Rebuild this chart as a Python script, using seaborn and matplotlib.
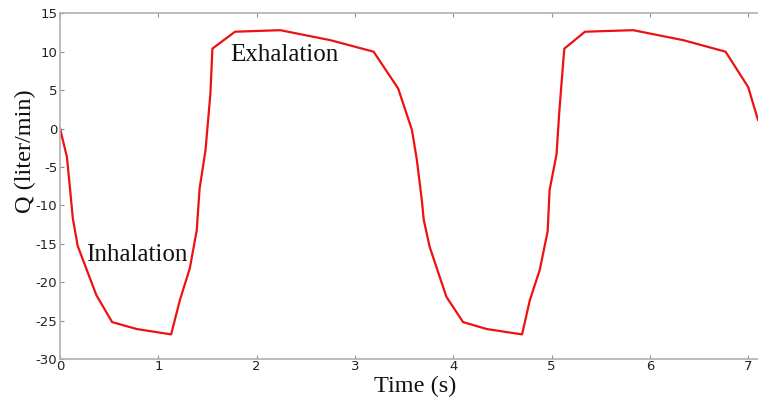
import matplotlib
matplotlib.use("Agg")
import matplotlib.pyplot as plt
import seaborn as sns
import pandas as pd

time_s = [0.00, 0.07, 0.10, 0.13, 0.18, 0.37, 0.53, 0.78, 1.13, 1.22, 1.32, 1.39, 1.42,
          1.48, 1.53, 1.55, 1.78, 2.24, 2.75, 3.19, 3.44, 3.58, 3.63, 3.68, 3.70, 3.76,
          3.93, 4.10, 4.34, 4.70, 4.78, 4.88, 4.96, 4.98, 5.05, 5.08, 5.12, 5.13, 5.34,
          5.83, 6.34, 6.77, 7.00, 7.10]
flow_lpm = [0.0, -3.7, -7.6, -11.7, -15.3, -21.7, -25.2, -26.1, -26.8, -22.3, -18.2, -13.3, -7.8,
            -2.8, 4.6, 10.4, 12.6, 12.8, 11.5, 10.0, 5.2, -0.2, -4.1, -9.3, -11.9, -15.4,
            -21.9, -25.2, -26.1, -26.8, -22.3, -18.4, -13.4, -8.0, -3.4, 2.4, 8.9, 10.4, 12.6,
            12.8, 11.5, 10.0, 5.4, 1.1]
phase_labels = ["Inhalation", "Exhalation"]
x_ticks = [0, 1, 2, 3, 4, 5, 6, 7]
y_ticks = [-30, -25, -20, -15, -10, -5, 0, 5, 10, 15]

sns.set_style("white")
plt.rcParams["font.family"] = ["DejaVu Sans"]
plt.rcParams["axes.unicode_minus"] = False

df = pd.DataFrame({"t": time_s, "q": flow_lpm})

fig = plt.figure(figsize=(7.58, 4.05), dpi=100)
ax = fig.add_axes([0.0792, 0.1136, 0.9208, 0.8536])
sns.lineplot(data=df, x="t", y="q", sort=False, color="#ee1111", linewidth=1.6, ax=ax)

ax.set_xlim(0, 7.1)
ax.set_ylim(-30, 15)
ax.set_xticks(x_ticks)
ax.set_yticks(y_ticks)

serif = "Liberation Serif"
ax.set_xlabel("Time (s)", fontsize=17.5, family=serif, color="#111111")
ax.set_ylabel("Q (liter/min)", fontsize=17.5, family=serif, color="#111111")
ax.xaxis.set_label_coords(0.509, -0.05, transform=ax.transAxes)
ax.yaxis.set_label_coords(-0.034, 0.60, transform=ax.transAxes)

ax.text(0.27, -16.5, phase_labels[0], fontsize=18, family=serif, color="#111111", va="center")
ax.text(1.73, 9.6, phase_labels[1], fontsize=18, family=serif, color="#111111", va="center")

for name, s in ax.spines.items():
    s.set_color("#b0b0b0")
    s.set_linewidth(1.2)
    s.set_visible(name != "right")
ax.tick_params(axis="both", direction="in", length=3, width=0.8, color="#909090",
               labelsize=9.5, labelcolor="#222222", pad=2, top=True, right=False,
               bottom=True, left=True)
ax.tick_params(axis="x", pad=1)

fig.savefig("out.png", dpi=100)
